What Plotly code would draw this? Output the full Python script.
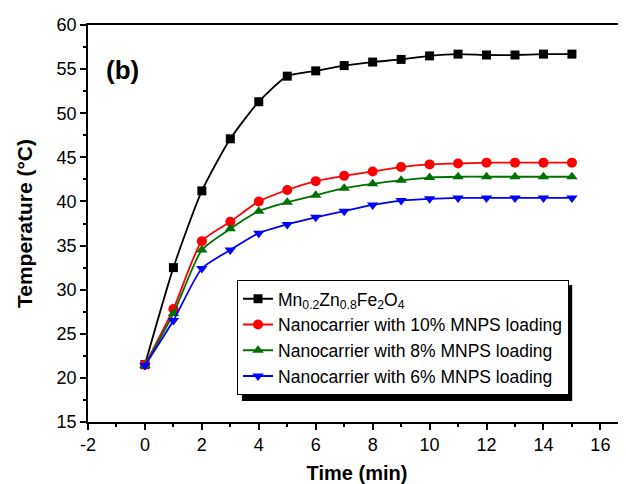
import plotly.graph_objects as go

time_min = [0, 1, 2, 3, 4, 5, 6, 7, 8, 9, 10, 11, 12, 13, 14, 15]
mnzn = [21.5, 32.5, 41.2, 47.1, 51.3, 54.2, 54.8, 55.4, 55.8, 56.1, 56.5, 56.7, 56.6, 56.6, 56.7, 56.7]
nc10 = [21.5, 27.8, 35.5, 37.7, 40.0, 41.3, 42.3, 42.9, 43.4, 43.9, 44.2, 44.3, 44.4, 44.4, 44.4, 44.4]
nc8 = [21.4, 27.3, 34.5, 36.9, 38.9, 39.9, 40.7, 41.5, 42.0, 42.4, 42.7, 42.8, 42.8, 42.8, 42.8, 42.8]
nc6 = [21.4, 26.5, 32.4, 34.5, 36.4, 37.4, 38.2, 38.9, 39.6, 40.1, 40.3, 40.4, 40.4, 40.4, 40.4, 40.4]

x_tickvals = [-2, 0, 2, 4, 6, 8, 10, 12, 14, 16]
x_ticktext = ["-2", "0", "2", "4", "6", "8", "10", "12", "14", "16"]

names = ["Mn<sub>0.2</sub>Zn<sub>0.8</sub>Fe<sub>2</sub>O<sub>4</sub>",
         "Nanocarrier with 10% MNPS loading",
         "Nanocarrier with 8% MNPS loading",
         "Nanocarrier with 6% MNPS loading"]
colors = ["#000000", "#FF0000", "#007000", "#0000FF"]
symbols = ["square", "circle", "triangle-up", "triangle-down"]
sizes = [9, 10, 10, 10]

fig = go.Figure()
for ys, nm, c, s, sz in zip([mnzn, nc10, nc8, nc6], names, colors, symbols, sizes):
    fig.add_trace(go.Scatter(
        x=time_min, y=ys, name=nm, mode="lines+markers",
        line=dict(color=c, width=1.8, shape="spline", smoothing=0.6),
        marker=dict(color=c, symbol=s, size=sz),
    ))

font_family = "Liberation Sans, Arial, sans-serif"
fig.update_layout(
    width=626, height=484,
    margin=dict(l=80, r=8, t=17, b=70),
    paper_bgcolor="white", plot_bgcolor="white",
    font=dict(family=font_family, size=15, color="black"),
    showlegend=True,
    legend=dict(x=0.277, y=0.358, xanchor="left", yanchor="top",
                bgcolor="white", bordercolor="black", borderwidth=1,
                font=dict(size=17.5, family=font_family, color="black"),
                itemwidth=30, tracegroupgap=0),
    xaxis=dict(range=[-2, 16.9], tickmode="array", tickvals=x_tickvals, ticktext=x_ticktext,
               showgrid=False, zeroline=False, automargin=False,
               showline=True, linecolor="black", linewidth=1.5, mirror=True,
               ticks="outside", ticklen=6, tickwidth=1.5, tickcolor="black",
               minor=dict(dtick=1, tick0=-2, ticks="outside", ticklen=3, tickwidth=1.5, tickcolor="black"),
               title=dict(text="<b>Time (min)</b>", font=dict(size=20), standoff=12),
               tickfont=dict(size=18)),
    yaxis=dict(range=[15, 60], tick0=15, dtick=5, showgrid=False, zeroline=False,
               automargin=False,
               showline=True, linecolor="black", linewidth=1.5, mirror=True,
               ticks="outside", ticklen=6, tickwidth=1.5, tickcolor="black",
               minor=dict(dtick=2.5, ticks="outside", ticklen=3, tickwidth=1.5, tickcolor="black"),
               title=dict(text="<b>Temperature (°C)</b>", font=dict(size=21), standoff=18),
               tickfont=dict(size=18)),
    shapes=[dict(type="rect", xref="paper", yref="paper",
                 x0=0.286, x1=0.900, y0=0.053, y1=0.345,
                 fillcolor="black", line=dict(width=0), layer="above")],
    annotations=[dict(text="<b>(b)</b>", xref="paper", yref="paper", x=0.03, y=0.887,
                      xanchor="left", yanchor="middle", showarrow=False,
                      font=dict(size=26, family=font_family, color="black"))],
)

fig.write_html("out.html")
